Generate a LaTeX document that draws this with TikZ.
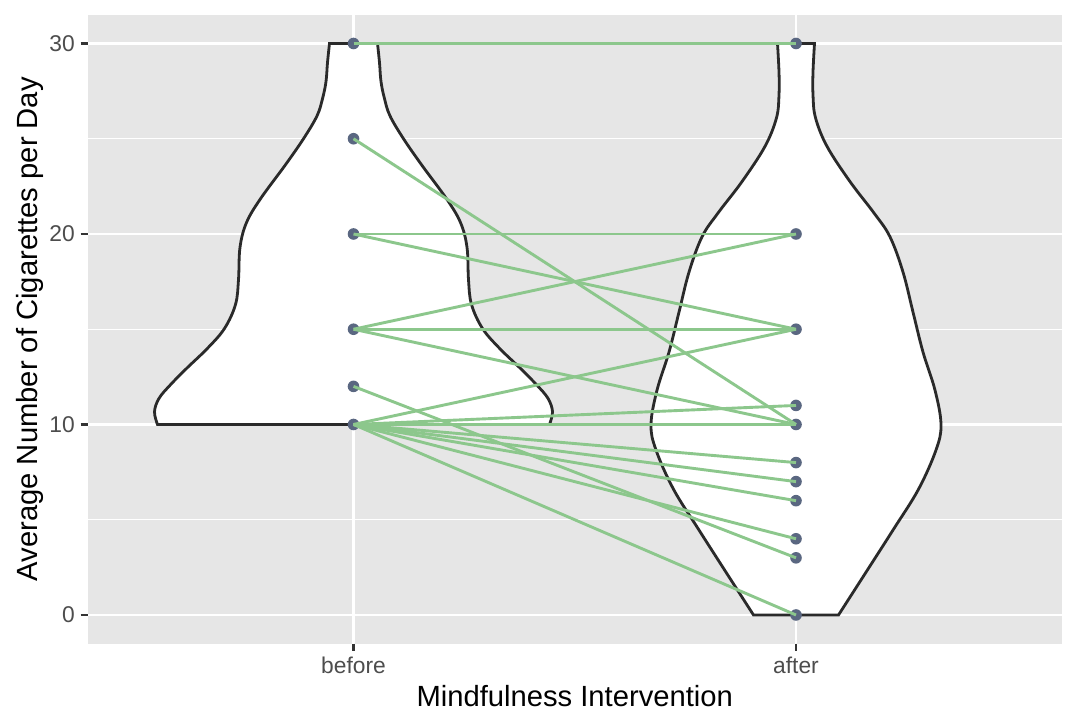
\documentclass[tikz,border=0pt]{standalone}
\usepackage{fontspec}
\setmainfont{Liberation Sans}
\definecolor{panelbg}{HTML}{E6E6E6}
\definecolor{ticktext}{HTML}{4D4D4D}
\definecolor{tickcol}{HTML}{333333}
\definecolor{violinline}{HTML}{2A2A2A}
\definecolor{ptcol}{HTML}{5A6781}
\definecolor{linecol}{HTML}{8CC78C}
\begin{document}
\begin{tikzpicture}[x=1pt,y=19.05pt,
  majorgrid/.style={white, line width=2.7pt},
  minorgrid/.style={white, line width=1.35pt},
  violinshape/.style={fill=white, draw=violinline, line width=2.8pt, line join=miter},
  pairline/.style={linecol, line width=2.9pt},
  datapt/.style={fill=ptcol},
  tickmark/.style={tickcol, line width=2.7pt},
  ticklabel/.style={text=ticktext, inner sep=0pt, font=\fontsize{22.8}{27}\selectfont},
  axtitle/.style={text=black, inner sep=0pt, font=\fontsize{29.2}{34}\selectfont}]

\useasboundingbox (0,-5.932) rectangle (1076,32.283);
\fill[white] (0,-5.932) rectangle (1076,32.283);

% panel
\fill[panelbg] (88,-1.5) rectangle (1061.5,31.5);
\foreach \v in {5,15,25} \draw[minorgrid] (88,\v) -- (1061.5,\v);
\foreach \v in {0,10,20,30} \draw[majorgrid] (88,\v) -- (1061.5,\v);
\draw[majorgrid] (353.5,-1.5) -- (353.5,31.5);
\draw[majorgrid] (796,-1.5) -- (796,31.5);

% violin: before
\draw[violinshape]
  plot[smooth, tension=0.6] coordinates {(377.5,30) (379.5,29.0) (381,28.0) (384.5,27.1) (390,26.2) (403.5,25.0) (422,23.6) (446.5,21.85) (460.5,20.6) (467,19.3) (468.5,17.6) (471.5,16.3) (482.5,15.04) (499.5,14.0) (520.5,12.94) (537,12.06) (548,11.37) (552.5,10.67) (549.5,10.0)}
  -- plot[smooth, tension=0.6] coordinates {(157.5,10) (154.5,10.67) (159,11.37) (170,12.06) (186.5,12.94) (207.5,14.0) (224.5,15.04) (235.5,16.3) (238.5,17.6) (240,19.3) (246.5,20.6) (260.5,21.85) (285,23.6) (303.5,25) (317,26.2) (322.5,27.1) (326,28.0) (327.5,29.0) (329.5,30)}
  -- cycle;

% violin: after
\draw[violinshape]
  plot[smooth, tension=0.6] coordinates {(814.5,30) (813,28.5) (813,27.3) (815.5,26.1) (827,24.6) (850,22.75) (874,21.1) (890,19.85) (903,18.0) (913,15.9) (923,13.8) (935,11.8) (941,10.0) (936,8.66) (918.5,6.6) (893.5,4.5) (868.5,2.45) (838.5,0)}
  -- plot[smooth, tension=0.6] coordinates {(753.5,0) (723.5,2.45) (698.5,4.5) (673.5,6.6) (656,8.66) (651,10) (657,11.8) (669,13.8) (679,15.9) (689,18.0) (702,19.85) (718,21.1) (742,22.75) (765,24.6) (776.5,26.1) (779,27.3) (779,28.5) (777.5,30)}
  -- cycle;

% data points
\foreach \v in {30,25,20,15,12,10} \coordinate (b\v) at (353.5,\v);
\foreach \v in {30,20,15,11,10,8,7,6,4,3,0} \coordinate (a\v) at (796,\v);
\foreach \v in {30,25,20,15,12,10} \fill[datapt] (b\v) circle (5.8pt);
\foreach \v in {30,20,15,11,10,8,7,6,4,3,0} \fill[datapt] (a\v) circle (5.8pt);

% paired lines
\foreach \s/\t in {30/30,25/10,20/20,20/15,15/20,15/15,15/10,12/3,10/15,10/11,10/10,10/8,10/7,10/6,10/4,10/0}
  \draw[pairline] (b\s) -- (a\t);

% axes ticks and labels
\foreach \v in {0,10,20,30} {
  \draw[tickmark] (80.7,\v) -- (88,\v);
  \node[ticklabel, anchor=east] (ytick\v) at (75,\v) {\v};
}
\draw[tickmark] (353.5,-1.5) -- (353.5,-1.883);
\draw[tickmark] (796,-1.5) -- (796,-1.883);
\node[ticklabel, anchor=base] (xbefore) at (353.5,-3.045) {before};
\node[ticklabel, anchor=base] (xafter) at (796,-3.045) {after};

\node[axtitle, anchor=base] (xtitle) at (574.75,-4.829) {Mindfulness Intervention};
\node[axtitle, anchor=base, rotate=90] (ytitle) at (37.5,15) {Average Number of Cigarettes per Day};
\end{tikzpicture}
\end{document}
